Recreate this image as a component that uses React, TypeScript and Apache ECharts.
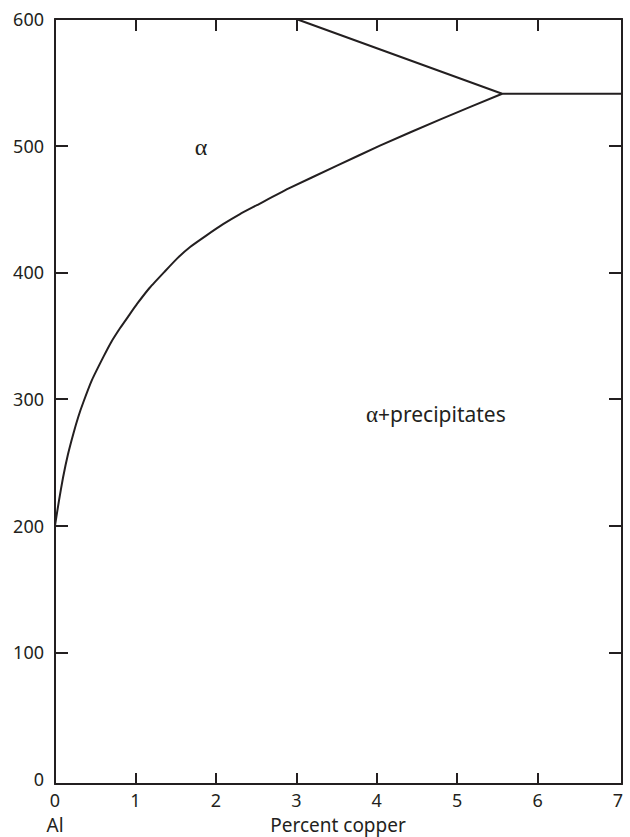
import React, { useEffect, useRef } from "react";
import * as echarts from "echarts";

const xTickLabels = [0, 1, 2, 3, 4, 5, 6, 7];
const xInnerTicks = [1, 2, 3, 4, 5, 6];
const yTickLabels = [0, 100, 200, 300, 400, 500, 600];
const yInnerTicks = [100, 200, 300, 400, 500];

// Solvus (alpha boundary) curve: percent copper vs temperature
const solvusX = [0, 0.05, 0.1, 0.16, 0.23, 0.29, 0.35, 0.46, 0.6, 0.7, 0.81, 0.92, 1.02, 1.18, 1.37, 1.52, 1.68, 1.88, 2.09, 2.3, 2.51, 2.9, 3.5, 4.04, 4.8, 5.56];
const solvusY = [200, 220, 238, 256, 273, 286, 297, 315, 333, 345, 356, 366, 375, 388, 401, 411, 420, 429, 438, 446, 453, 466, 484, 500, 521, 541];

// Line from 600 down to the eutectic point and the eutectic horizontal
const upperX = [3, 5.56, 7.05];
const upperY = [600, 541, 541];

const INK = "#231f20";

export default function App() {
  const ref = useRef<HTMLDivElement>(null);
  useEffect(() => {
    if (!ref.current) return;
    const chart = echarts.init(ref.current, null, { renderer: "svg" });
    const solvus = solvusX.map((x, i) => [x, solvusY[i]]);
    const upper = upperX.map((x, i) => [x, upperY[i]]);
    const font = "'Noto Sans', 'Open Sans', sans-serif";
    const serif = "'Liberation Serif', 'DejaVu Serif', serif";
    chart.setOption({
      animation: false,
      backgroundColor: "#ffffff",
      grid: { left: 55, top: 19, right: 8, bottom: 53, containLabel: false },
      xAxis: [
        {
          type: "value",
          position: "bottom",
          min: 0,
          max: 7.05,
          axisLine: { show: true, onZero: false, lineStyle: { color: INK, width: 2 } },
          axisTick: { show: true, inside: true, length: 11, customValues: xInnerTicks, lineStyle: { color: INK, width: 2 } },
          axisLabel: { show: true, customValues: xTickLabels, margin: 6, color: INK, fontSize: 18, lineHeight: 20, fontFamily: font },
          splitLine: { show: false },
        },
        {
          type: "value",
          position: "top",
          min: 0,
          max: 7.05,
          axisLine: { show: true, onZero: false, lineStyle: { color: INK, width: 2 } },
          axisTick: { show: true, inside: true, length: 12, customValues: xInnerTicks, lineStyle: { color: INK, width: 2 } },
          axisLabel: { show: false },
          splitLine: { show: false },
        },
      ],
      yAxis: [
        {
          type: "value",
          position: "left",
          min: -4,
          max: 600,
          axisLine: { show: true, onZero: false, lineStyle: { color: INK, width: 2 } },
          axisTick: { show: true, inside: true, length: 13, customValues: yInnerTicks, lineStyle: { color: INK, width: 2 } },
          axisLabel: { show: true, customValues: yTickLabels, margin: 11, color: INK, fontSize: 18, fontFamily: font },
          splitLine: { show: false },
        },
        {
          type: "value",
          position: "right",
          min: -4,
          max: 600,
          axisLine: { show: true, onZero: false, lineStyle: { color: INK, width: 2 } },
          axisTick: { show: true, inside: true, length: 13, customValues: yInnerTicks, lineStyle: { color: INK, width: 2 } },
          axisLabel: { show: false },
          splitLine: { show: false },
        },
      ],
      series: [
        {
          type: "line",
          name: "solvus",
          data: solvus,
          showSymbol: false,
          smooth: 0.15,
          lineStyle: { color: INK, width: 2, join: "round" },
          xAxisIndex: 0,
          yAxisIndex: 0,
        },
        {
          type: "line",
          name: "upper",
          data: upper,
          showSymbol: false,
          lineStyle: { color: INK, width: 2 },
          xAxisIndex: 0,
          yAxisIndex: 0,
        },
      ],
      graphic: [
        {
          type: "text",
          x: 201,
          y: 147,
          style: { text: "α", fill: INK, align: "center", verticalAlign: "middle", font: `24px ${serif}` },
        },
        {
          type: "text",
          x: 366,
          y: 414,
          style: {
            text: "{a|α}{b|+precipitates}",
            verticalAlign: "middle",
            rich: {
              a: { fill: INK, fontSize: 23, fontFamily: serif },
              b: { fill: INK, fontSize: 21, fontFamily: font },
            },
          },
        },
        {
          type: "text",
          x: 55,
          y: 836,
          style: { text: "Al", fill: INK, align: "center", verticalAlign: "bottom", lineHeight: 22, font: `19px ${font}` },
        },
        {
          type: "text",
          x: 338,
          y: 836,
          style: { text: "Percent copper", fill: INK, align: "center", verticalAlign: "bottom", lineHeight: 22, font: `19px ${font}` },
        },
      ],
    });
    return () => chart.dispose();
  }, []);
  return (
    <div
      ref={ref}
      style={{ position: "fixed", left: 0, top: 0, width: 630, height: 837, background: "#fff" }}
    />
  );
}
